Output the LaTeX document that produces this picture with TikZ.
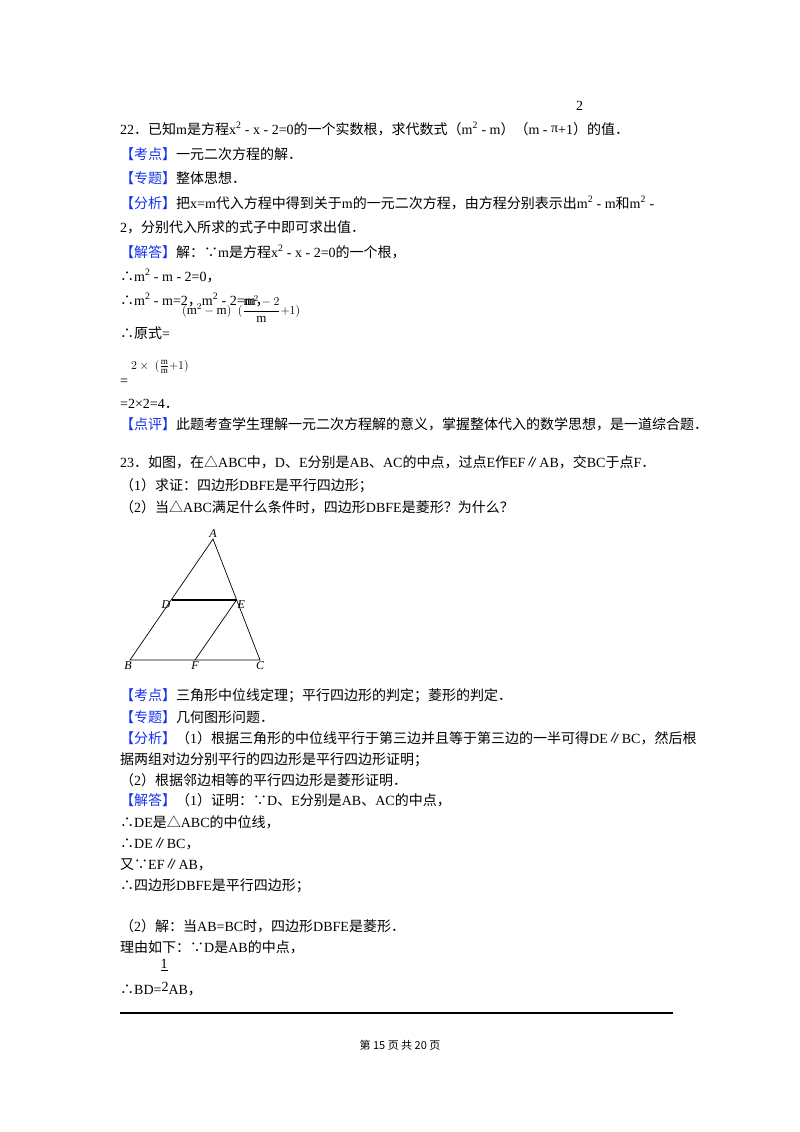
\documentclass[tikz,border=0pt]{standalone}
\usepackage{fontspec}
\setmainfont{Liberation Serif}
\newfontfamily\cjk{Noto Sans CJK SC}
\newfontfamily\latin{Liberation Serif}
\XeTeXinterchartokenstate=1
\newXeTeXintercharclass\cjkclass
\makeatletter
\count@="3000
\loop\ifnum\count@<"A000 \XeTeXcharclass\count@=\cjkclass \advance\count@ 1 \repeat
\count@="FF00
\loop\ifnum\count@<"FFF0 \XeTeXcharclass\count@=\cjkclass \advance\count@ 1 \repeat
\makeatother
\XeTeXcharclass"2234=\cjkclass
\XeTeXcharclass"2235=\cjkclass
\XeTeXcharclass"25B3=\cjkclass
\XeTeXcharclass"2225=\cjkclass
\XeTeXinterchartoks 0 \cjkclass = {\cjk}
\XeTeXinterchartoks 4095 \cjkclass = {\cjk}
\XeTeXinterchartoks \cjkclass 0 = {\latin}
\definecolor{tagblue}{RGB}{20,50,235}
\begin{document}
\begin{tikzpicture}[x=1pt,y=-1pt,
  t/.style={anchor=base west,inner sep=0pt,font=\fontsize{14}{16}\selectfont},
  lab/.style={inner sep=1pt,font=\fontsize{12}{14}\selectfont\itshape}]
\useasboundingbox (0,0) rectangle (800,1132);
\newcommand\tg[1]{\textcolor{tagblue}{【#1】}}
\newcommand\sq{\textsuperscript{2}}
\node[t] (q2) at (576,110) {2};
\node[t] (l1) at (120,134) {22．已知m是方程x\sq\ -\ x\ -\ 2=0的一个实数根，求代数式（m\sq\ -\ m）（m\ -\ \raisebox{2pt}{π}+1）的值．};
\node[t] (l2) at (120,159) {\tg{考点}一元二次方程的解．};
\node[t] (l3) at (120,183) {\tg{专题}整体思想．};
\node[t] (l4) at (120,208) {\tg{分析}把x=m代入方程中得到关于m的一元二次方程，由方程分别表示出m\sq\ -\ m和m\sq\ -};
\node[t] (l5) at (120,232) {2，分别代入所求的式子中即可求出值．};
\node[t] (l6) at (120,257) {\tg{解答}解：∵m是方程x\sq\ -\ x\ -\ 2=0的一个根，};
\node[t] (l7) at (120,281) {∴m\sq\ -\ m\ -\ 2=0，};
\node[t] (l8) at (120,305) {∴m\sq\ -\ m=2，m\sq\ -\ 2=m，};
\node[anchor=west,inner sep=0pt,font=\fontsize{13}{15}\selectfont] (f1) at (182,309) {$(\mathrm{m}^2-\mathrm{m})\ \ (\displaystyle\frac{\mathrm{m}^2-2}{\mathrm{m}}{+}1)$};
\node[t] (l9) at (120,338) {∴原式=};
\node[anchor=west,inner sep=0pt,font=\fontsize{13}{15}\selectfont] (f2) at (131,367) {$2\times\ (\frac{\mathrm{m}}{\mathrm{m}}{+}1)$};
\node[t] (l10) at (120,385) {=};
\node[t] (l11) at (120,408) {=2×2=4．};
\node[t] (l12) at (120,429) {\tg{点评}此题考查学生理解一元二次方程解的意义，掌握整体代入的数学思想，是一道综合题．};
\node[t] (m1) at (120,467) {23．如图，在△ABC中，D、E分别是AB、AC的中点，过点E作EF∥AB，交BC于点F．};
\node[t] (m2) at (120,490) {（1）求证：四边形DBFE是平行四边形；};
\node[t] (m3) at (120,512) {（2）当△ABC满足什么条件时，四边形DBFE是菱形？为什么？};
% figure
\coordinate (A) at (213,539);
\coordinate (B) at (130,660);
\coordinate (C) at (260,660);
\coordinate (D) at (171.5,600);
\coordinate (E) at (236.5,600);
\coordinate (F) at (195,660);
\draw[line width=0.7pt] (A) -- (B) -- (C) -- cycle;
\draw[line width=1.4pt] (D) -- (E);
\draw[line width=0.7pt] (E) -- (F);
\node[lab,above] (lA) at (A) {A};
\node[lab,left] (lD) at ([yshift=-5]D) {D};
\node[lab,right] (lE) at ([yshift=-5]E) {E};
\node[lab,below left] (lB) at ([xshift=3]B) {B};
\node[lab,below] (lF) at (F) {F};
\node[lab,below] (lC) at (C) {C};
\node[t] (n1) at (120,700) {\tg{考点}三角形中位线定理；平行四边形的判定；菱形的判定．};
\node[t] (n2) at (120,722) {\tg{专题}几何图形问题．};
\node[t] (n3) at (120,743) {\tg{分析}（1）根据三角形的中位线平行于第三边并且等于第三边的一半可得DE∥BC，然后根};
\node[t] (n4) at (120,764) {据两组对边分别平行的四边形是平行四边形证明；};
\node[t] (n5) at (120,785) {（2）根据邻边相等的平行四边形是菱形证明．};
\node[t] (n6) at (120,805) {\tg{解答}（1）证明：∵D、E分别是AB、AC的中点，};
\node[t] (n7) at (120,827) {∴DE是△ABC的中位线，};
\node[t] (n8) at (120,848) {∴DE∥BC，};
\node[t] (n9) at (120,869) {又∵EF∥AB，};
\node[t] (n10) at (120,890) {∴四边形DBFE是平行四边形；};
\node[t] (n11) at (120,931) {（2）解：当AB=BC时，四边形DBFE是菱形．};
\node[t] (n12) at (120,952) {理由如下：∵D是AB的中点，};
\node[inner sep=0pt,font=\fontsize{14}{16}\selectfont] (one) at (164,965) {\underline{1}};
\node[t] (n13) at (120,994) {∴BD=\raisebox{3pt}{2}AB，};
\draw[line width=1.3pt] (120,1013) -- (673,1013);
\node[inner sep=0pt,font=\fontsize{11}{13}\selectfont] (foot) at (400,1045) {第 15 页 共 20 页};
\end{tikzpicture}
\end{document}
